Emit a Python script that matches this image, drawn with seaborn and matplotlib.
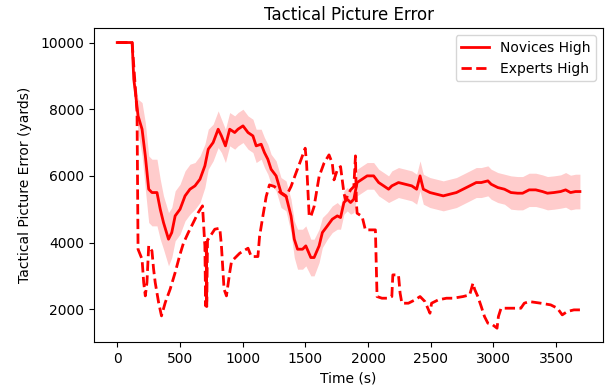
import matplotlib
matplotlib.use("Agg")
import matplotlib.pyplot as plt
import seaborn as sns
import numpy as np
import pandas as pd

# ---- data ----
novice_t = [0, 119, 132, 145, 166, 198, 224, 251, 277, 317,
            343, 369, 409, 435, 462, 501, 541, 580, 620, 660,
            699, 726, 765, 805, 831, 863, 897, 937, 963, 1003,
            1043, 1082, 1108, 1148, 1174, 1201, 1227, 1267, 1306, 1346,
            1386, 1412, 1438, 1478, 1504, 1544, 1570, 1610, 1636, 1676,
            1715, 1755, 1781, 1808, 1834, 1861, 1887, 1913, 1953, 1993,
            2045, 2085, 2125, 2164, 2190, 2243, 2296, 2349, 2388, 2415,
            2441, 2494, 2547, 2600, 2652, 2705, 2758, 2811, 2863, 2903,
            2956, 2982, 3035, 3088, 3140, 3193, 3233, 3285, 3338, 3391,
            3431, 3483, 3536, 3576, 3615, 3655, 3690]

novice_mean = [10000, 10000, 8900, 8500, 7800, 7400, 6600, 5600, 5500, 5500,
               5000, 4600, 4100, 4300, 4800, 5000, 5400, 5600, 5700, 5900,
               6300, 6800, 7000, 7400, 7200, 6900, 7400, 7300, 7400, 7500,
               7300, 7200, 6900, 6950, 6700, 6500, 6200, 6000, 5500, 5400,
               4800, 4100, 3800, 3800, 3900, 3550, 3550, 3900, 4300, 4500,
               4700, 4800, 4750, 5200, 5300, 5200, 5300, 5800, 5900, 6000,
               6000, 5800, 5700, 5600, 5700, 5800, 5750, 5700, 5600, 6000,
               5600, 5500, 5450, 5400, 5450, 5500, 5600, 5700, 5800, 5800,
               5850, 5750, 5650, 5600, 5500, 5480, 5480, 5580, 5580, 5530,
               5480, 5500, 5530, 5580, 5500, 5530, 5530]

novice_ci = [0, 0, 200, 300, 500, 800, 1000, 1000, 1000, 1000,
             900, 800, 800, 750, 750, 750, 750, 750, 700, 700,
             650, 600, 550, 550, 500, 500, 500, 500, 500, 500,
             500, 500, 500, 450, 450, 450, 450, 450, 450, 450,
             500, 550, 600, 600, 600, 550, 550, 500, 450, 400,
             400, 400, 350, 350, 350, 350, 400, 400, 400, 400,
             400, 400, 400, 400, 450, 450, 450, 450, 450, 450,
             450, 450, 450, 450, 450, 450, 450, 450, 450, 450,
             450, 450, 450, 450, 500, 500, 500, 500, 500, 500,
             500, 500, 500, 520, 520, 520, 520]

expert_t = [0, 119, 145, 158, 166, 198, 211, 224, 237, 251,
            277, 290, 303, 330, 353, 383, 422, 462, 501, 528,
            567, 607, 646, 680, 699, 705, 710, 714, 720, 726,
            778, 818, 831, 852, 871, 897, 910, 924, 977, 1043,
            1069, 1122, 1135, 1161, 1188, 1214, 1254, 1306, 1346, 1386,
            1425, 1465, 1499, 1510, 1531, 1544, 1570, 1610, 1649, 1689,
            1715, 1729, 1755, 1781, 1808, 1821, 1861, 1887, 1900, 1907,
            1913, 1953, 1979, 2019, 2059, 2072, 2111, 2151, 2190, 2198,
            2243, 2256, 2270, 2322, 2375, 2415, 2454, 2494, 2507, 2560,
            2626, 2679, 2758, 2811, 2837, 2850, 2876, 2903, 2929, 2956,
            2995, 3029, 3040, 3061, 3114, 3219, 3246, 3285, 3378, 3457,
            3510, 3549, 3589, 3642, 3690]

expert_mean = [10000, 10000, 8600, 7900, 3800, 3500, 2800, 2400, 2800, 3900,
               3750, 3200, 2800, 2200, 1800, 2200, 2600, 3100, 3650, 3980,
               4300, 4600, 4900, 5100, 3900, 2100, 4000, 2080, 4080, 4100,
               4400, 4430, 3900, 2600, 2400, 3100, 3400, 3480, 3680, 3830,
               3580, 3580, 4180, 4780, 5380, 5730, 5680, 5480, 5380, 5680,
               6080, 6480, 6830, 6380, 4780, 4780, 5080, 5980, 6380, 6630,
               6380, 5880, 6180, 6280, 5480, 5280, 5580, 5680, 6600, 5200,
               4880, 4780, 4380, 4380, 4380, 2380, 2330, 2330, 2380, 3030,
               3030, 2480, 2180, 2180, 2280, 2380, 2230, 1880, 2180, 2280,
               2330, 2330, 2380, 2430, 2780, 2600, 2380, 2080, 1780, 1580,
               1530, 1430, 1780, 2030, 2030, 2030, 2180, 2230, 2180, 2130,
               2030, 1830, 1930, 1980, 1980]

series_labels = ["Novices High", "Experts High"]
title = "Tactical Picture Error"
x_label = "Time (s)"
y_label = "Tactical Picture Error (yards)"

novice_df = pd.DataFrame({"t": novice_t, "v": novice_mean, "ci": novice_ci})
expert_df = pd.DataFrame({"t": expert_t, "v": expert_mean})

fig = plt.figure(figsize=(6.11, 3.87), dpi=100)
ax = fig.add_axes([0.154, 0.115, 0.833, 0.812])

ax.fill_between(novice_df["t"], novice_df["v"] - novice_df["ci"],
                novice_df["v"] + novice_df["ci"], color="red", alpha=0.2,
                linewidth=0)
sns.lineplot(data=novice_df, x="t", y="v", ax=ax, color="red",
             linewidth=2.0, label=series_labels[0], errorbar=None)
sns.lineplot(data=expert_df, x="t", y="v", ax=ax, color="red",
             linewidth=2.0, linestyle="--", label=series_labels[1],
             errorbar=None)

ax.set_title(title, fontsize=12)
ax.set_xlabel(x_label, fontsize=10)
ax.set_ylabel(y_label, fontsize=10, labelpad=6)
ax.set_xticks(np.arange(0, 3501, 500))
ax.set_yticks(np.arange(2000, 10001, 2000))
ax.legend(loc="upper right", fontsize=10)

fig.savefig("out.png", dpi=100)
